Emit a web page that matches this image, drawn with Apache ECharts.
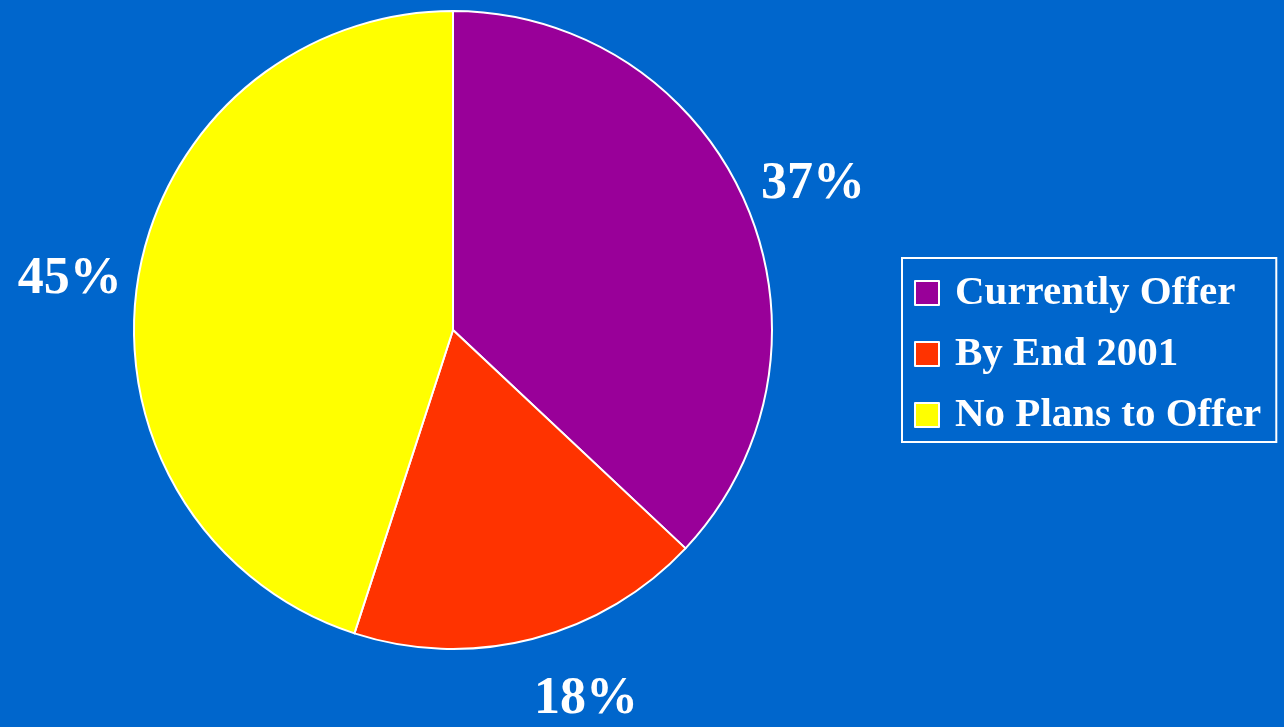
<!DOCTYPE html>
<html>
<head>
<meta charset="utf-8">
<style>
  html, body { margin: 0; padding: 0; background: #0066CC; }
  #chart { width: 1284px; height: 727px; }
</style>
<script src="https://cdn.jsdelivr.net/npm/echarts@6/dist/echarts.min.js"></script>
</head>
<body>
<div id="chart"></div>
<script>
// Share of respondents by offering status
const categories = ['Currently Offer', 'By End 2001', 'No Plans to Offer'];
const shares = [37, 18, 45];
const sliceColors = ['#990099', '#FF3300', '#FFFF00'];

// Pie geometry (pixels)
const CX = 453, CY = 330, R = 319;
const LABEL_DIST = 390;
const LABEL_DROP = 9;
// small per-label nudges for the percentage texts
const labelNudge = [[2, 0], [36, -17], [2, 2]];

const total = shares.reduce((a, b) => a + b, 0);

const chart = echarts.init(document.getElementById('chart'));
chart.setOption({
  backgroundColor: '#0066CC',
  animation: false,
  legend: {
    orient: 'vertical',
    left: 902,
    top: 258,
    data: categories,
    icon: 'rect',
    itemWidth: 24,
    itemHeight: 24,
    itemGap: 17,
    padding: [13, 15, 5, 12],
    borderColor: '#FFFFFF',
    borderWidth: 2,
    itemStyle: { borderColor: '#FFFFFF', borderWidth: 2 },
    textStyle: {
      color: '#FFFFFF',
      fontFamily: '"Liberation Serif", "Times New Roman", serif',
      fontWeight: 'bold',
      fontSize: 41,
      lineHeight: 44,
      padding: [0, 0, 0, 11]
    }
  },
  series: [{
    type: 'pie',
    center: [CX, CY],
    radius: [0, R],
    startAngle: 90,
    clockwise: true,
    data: categories.map((name, i) => ({
      name: name,
      value: shares[i],
      itemStyle: { color: sliceColors[i] }
    })),
    itemStyle: { borderColor: '#FFFFFF', borderWidth: 2 },
    label: {
      show: true,
      position: 'outside',
      formatter: '{c}%',
      color: '#FFFFFF',
      fontFamily: '"Liberation Serif", "Times New Roman", serif',
      fontWeight: 'bold',
      fontSize: 52,
      overflow: 'none',
      width: 160
    },
    labelLine: { show: false },
    labelLayout: function (params) {
      const i = params.dataIndex;
      let before = 0;
      for (let k = 0; k < i; k++) before += shares[k];
      const mid = (before + shares[i] / 2) / total * Math.PI * 2;
      return {
        x: CX + LABEL_DIST * Math.sin(mid) + labelNudge[i][0],
        y: CY - LABEL_DIST * Math.cos(mid) + LABEL_DROP + labelNudge[i][1],
        align: 'center',
        verticalAlign: 'middle'
      };
    },
    emphasis: { disabled: true }
  }]
});
</script>
</body>
</html>
